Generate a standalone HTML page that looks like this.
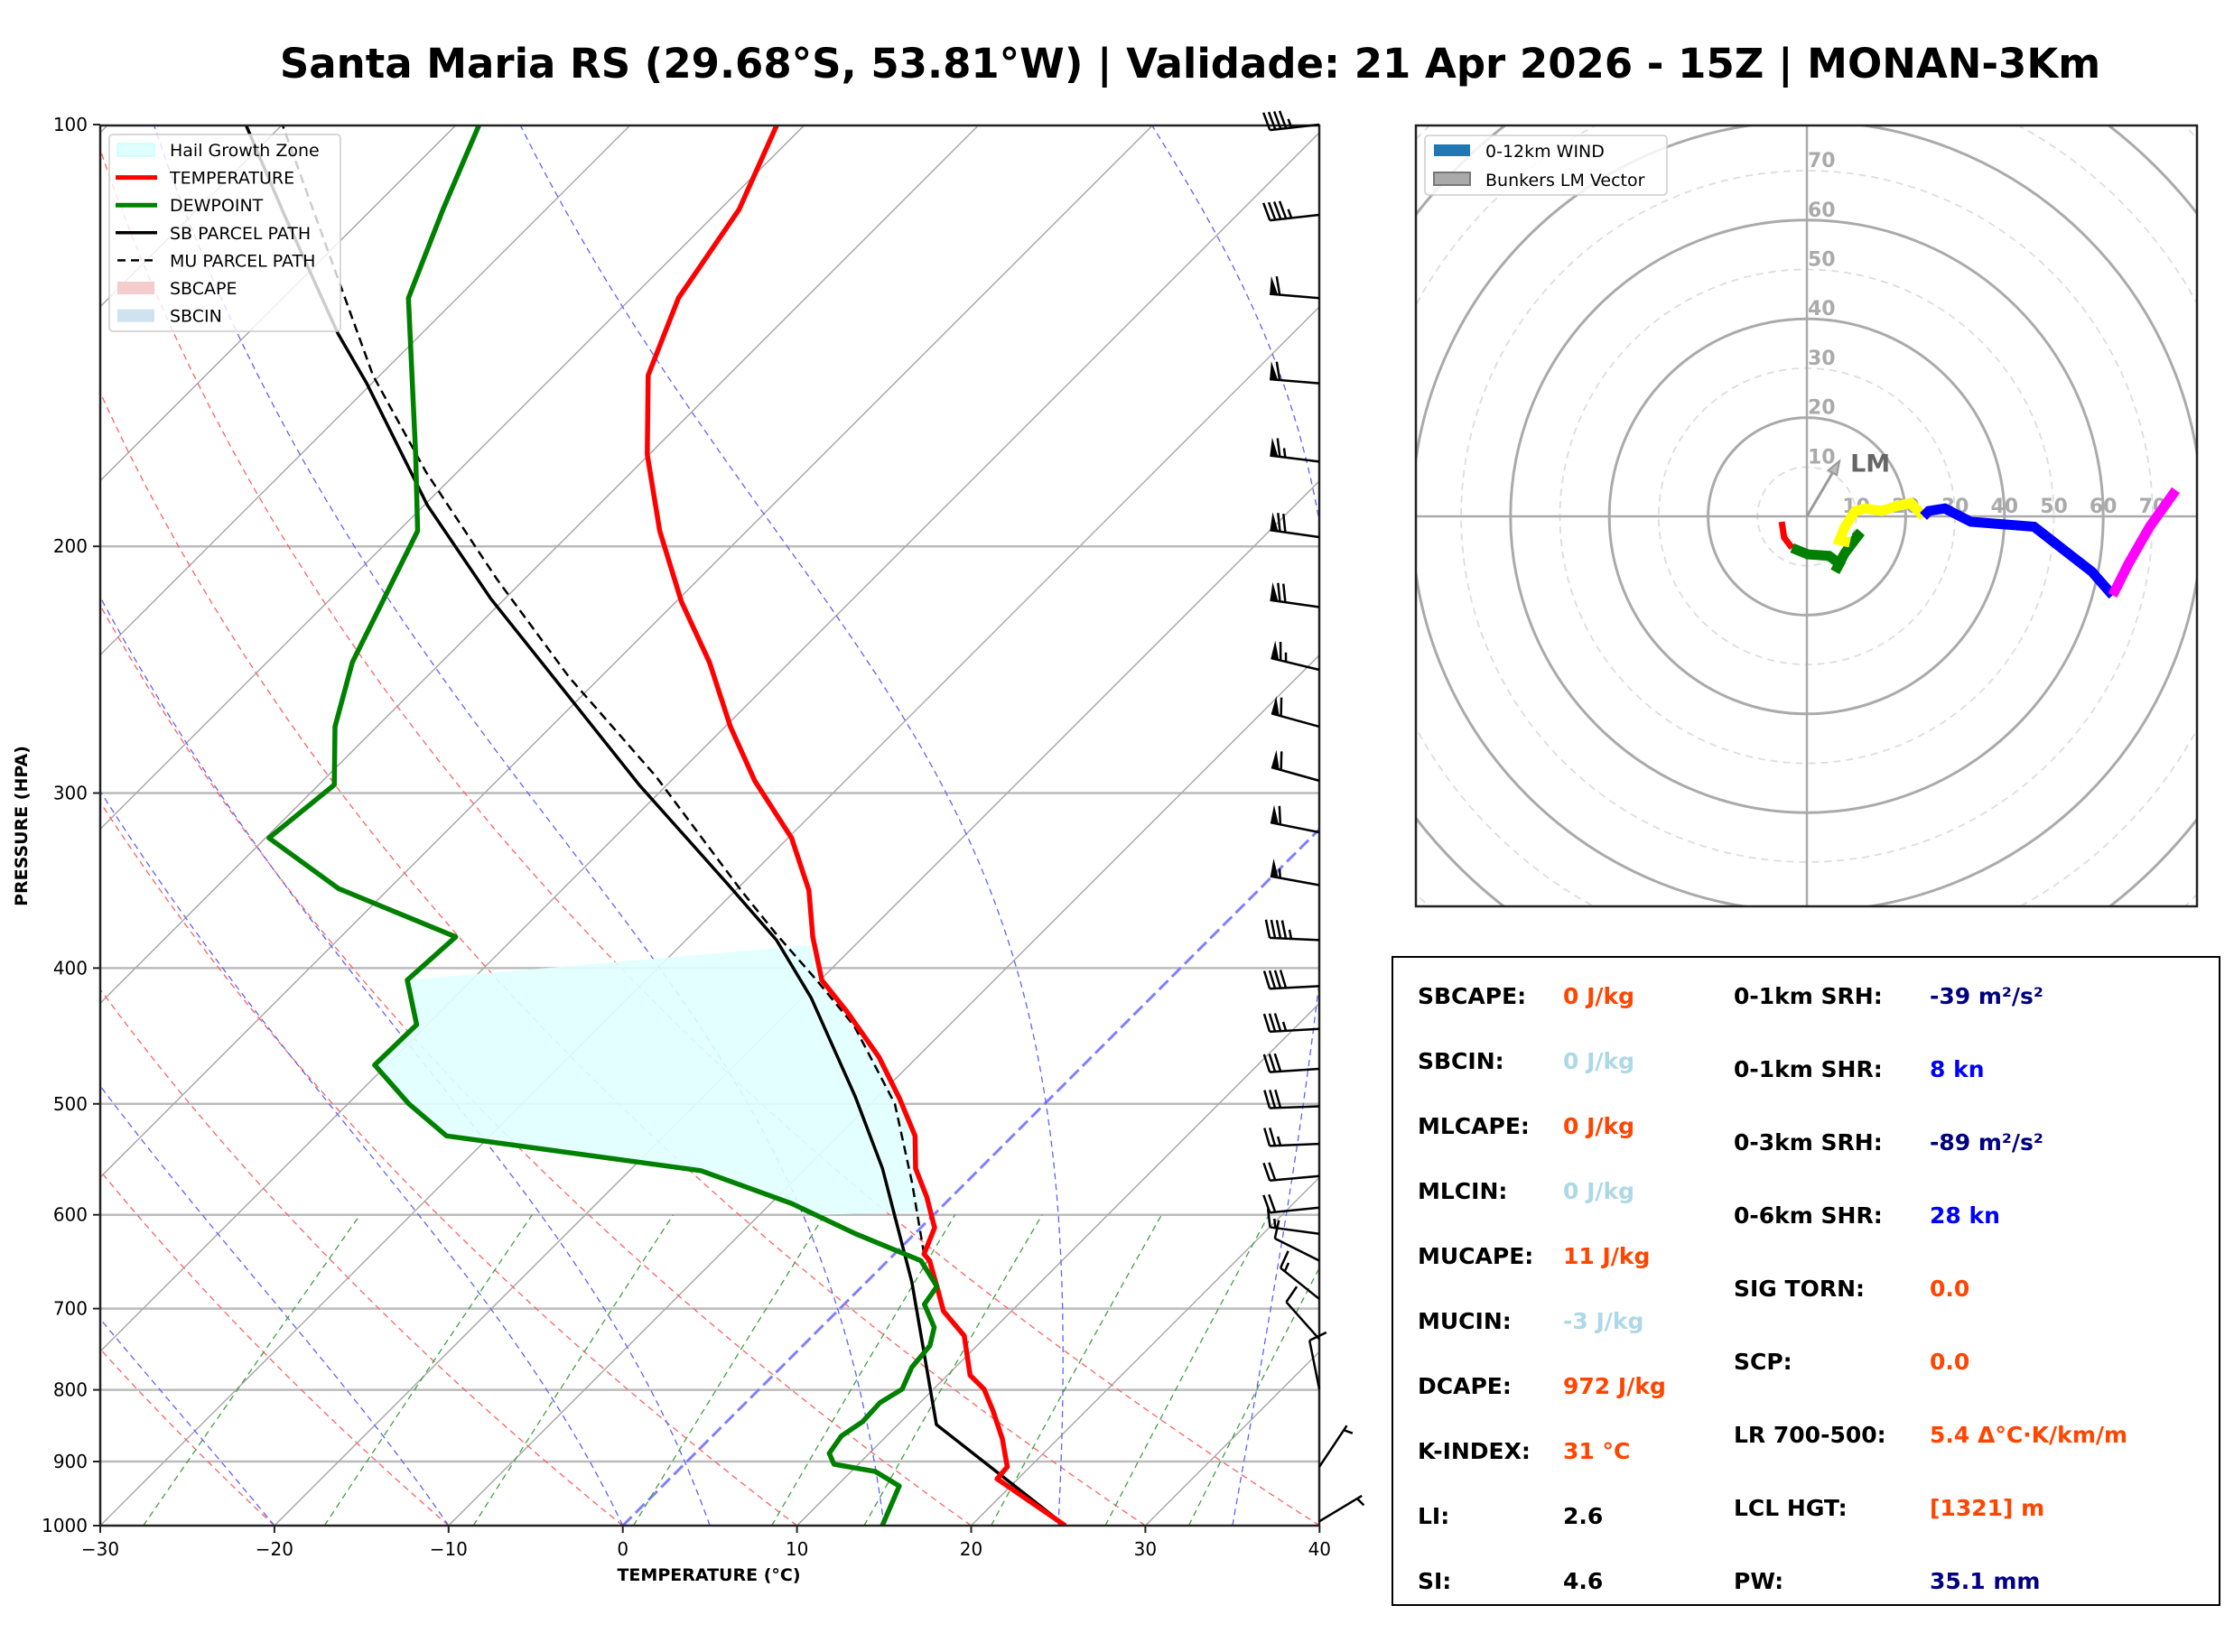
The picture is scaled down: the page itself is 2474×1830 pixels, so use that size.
<!DOCTYPE html>
<html><head><meta charset="utf-8">
<style>
html,body{margin:0;padding:0;background:#fff;}
svg{display:block;font-family:"DejaVu Sans","Liberation Sans",sans-serif;}
</style></head>
<body>
<svg id="fig" width="2474" height="1830" viewBox="0 0 2474 1830" xmlns="http://www.w3.org/2000/svg">
<rect width="2474" height="1830" fill="#fff"/>
<text x="1318" y="86" font-size="45" font-weight="bold" text-anchor="middle" font-family="DejaVu Sans, Liberation Sans, sans-serif">Santa Maria RS (29.68°S, 53.81°W) | Validade: 21 Apr 2026 - 15Z | MONAN-3Km</text>
<defs>
<clipPath id="skclip"><rect x="111" y="139" width="1350" height="1551"/></clipPath>
<clipPath id="hoclip"><rect x="1568" y="139" width="865" height="865"/></clipPath>
</defs>
<g id="skewt"></g>
<g id="hodo"></g>
<g id="table"></g>
</svg>
<script>
// ---------- Skew-T data ----------
const tempP = [1000,926,908,867,827,799,781,732,703,678,647,640,613,583,556,527,496,463,430,408,380,352,323,294,269,242,219,195,172,151,133,115,100];
const tempT = [25.4,18.8,18.7,16.8,14.6,12.9,11.3,8.7,6.1,4.5,2.4,1.7,0.8,-1.4,-3.7,-5.6,-8.6,-12.2,-16.6,-19.9,-22.9,-25.8,-29.8,-35.2,-39.7,-44.6,-49.7,-55.0,-60.1,-64.6,-67.3,-68.9,-71.6];
const dewP = [1000,937,915,904,888,863,843,817,799,771,744,722,695,675,647,619,589,558,527,500,469,439,408,380,351,323,296,269,242,221,195,172,133,115,100];
const dewT = [14.9,13.6,11.4,8.6,7.7,7.4,7.8,7.7,8.2,7.5,7.3,6.5,4.6,4.3,1.9,-3.4,-8.8,-15.9,-32.5,-36.5,-40.7,-40.6,-43.7,-43.4,-52.9,-59.8,-59.1,-62.4,-65.1,-66.7,-68.9,-73.4,-82.8,-85.9,-88.7];
const sbP = [1000,847,670,556,494,420,382,348,296,250,218,187,153,141,116,100];
const sbT = [25.4,12.2,2.6,-5.6,-11.3,-19.5,-24.8,-30.9,-41.6,-52.2,-60.8,-69.8,-80.3,-84.8,-94.7,-102.1];
const muP = [640,569,500,440,408,378,352,292,248,211,177,151,100];
const muT = [1.7,-3.1,-8.6,-15.4,-20.2,-25.2,-29.7,-41.1,-51.8,-61.6,-71.8,-80.4,-100.0];
const hgzTopP = 385;
const hgzBotP = 600;
const pTicks = [100,200,300,400,500,600,700,800,900,1000];
const tTicks = [-30,-20,-10,0,10,20,30,40];
const barbP = [100,116,133,153,174,197,221,245,269,294,320,349,382,412,442,472,502,534,563,593,619,647,689,736,799,908,993];
const barbU = [45,45,60,60,65,70,70,62,58,57,60,55,45,38,35,30,28,25,22,20,15,10,10,8,2,-4,-5];
const barbV = [5,5,-5,-5,-8,-10,-10,-15,-16,-16,-12,-10,-2,2,2,2,1,1,2,2,-2,-5,-8,-9,-10,-6,-3];
// ---------- Hodograph data (kn) ----------
const hodoRedU = [-5.1,-4.6,-3.0];
const hodoRedV = [-1.1,-4.3,-6.4];
const hodoGreenU = [-3.0,0.2,4.5,6.6,5.7,7.7,10.9,9.8];
const hodoGreenV = [-6.4,-7.7,-8.0,-9.6,-11.2,-7.4,-3.2,-4.3];
const hodoYellowU = [8.7,6.6,7.7,9.8,11.9,15.1,18.3,21.0,23.6];
const hodoYellowV = [-5.3,-4.8,-2.1,1.1,1.6,1.1,2.1,2.7,0.0];
const hodoBlueU = [23.6,24.7,27.9,33.2,46.0,57.7,61.9];
const hodoBlueV = [0.0,1.1,1.6,-1.1,-2.1,-11.2,-16.0];
const hodoMagU = [61.9,65.1,69.4,74.7];
const hodoMagV = [-16.0,-9.6,-2.1,5.3];
const lmU = [6.6];
const lmV = [11.2];
const ringLabels = [10,20,30,40,50,60,70];

const NS='http://www.w3.org/2000/svg';
function mk(tag,attrs,parent){const e=document.createElementNS(NS,tag);for(const k in attrs)e.setAttribute(k,attrs[k]);parent.appendChild(e);return e;}
const X0=111,X1=1461,Y0=1690,Y1=139,H=1552,KT=19.29;
function yP(p){return Y0-H*Math.log10(1000/p);}
function xT(T,p){return X0+(T+30)*KT+(Y0-yP(p));}
function pathFrom(P,T){return P.map((p,i)=>(i?'L':'M')+xT(T[i],p).toFixed(1)+','+yP(p).toFixed(1)).join('');}

const sk=document.getElementById('skewt');
const bg=mk('g',{'clip-path':'url(#skclip)'},sk);


pTicks.forEach(p=>{if(p===100||p===1000)return;
 const l=mk('line',{x1:X0,x2:X1,y1:yP(p),y2:yP(p),stroke:'#bbb','stroke-width':2.5},bg);
 
 });
for(let T=-120;T<=40;T+=10){
 const l=mk('line',{x1:xT(T,1000),y1:yP(1000),x2:xT(T,100),y2:yP(100),stroke:T===0?'#8080ff':'#aaa','stroke-width':T===0?3:1.5,'stroke-dasharray':T===0?'14,6':'none'},bg);
 
 }
for(let t0=-30;t0<=40;t0+=10){let d='';
 for(let p=1000;p>=100;p-=10){const T=(t0+273.15)*Math.pow(p/1000,0.2857)-273.15;d+=(p===1000?'M':'L')+xT(T,p).toFixed(1)+','+yP(p).toFixed(1);}
 const l=mk('path',{d:d,fill:'none',stroke:'#ff6060','stroke-width':1.3,'stroke-dasharray':'7,5'},bg);
 
 }
function es(Tc){return 6.112*Math.exp(17.67*Tc/(Tc+243.5));}
[-20,-10,0,5,15,25,35].forEach(t0=>{let T=t0+273.15,d='';
 for(let p=1000;p>=100;p-=5){d+=(p===1000?'M':'L')+xT(T-273.15,p).toFixed(1)+','+yP(p).toFixed(1);
  const e=es(T-273.15),rs=0.622*e/(p-e),Lv=2.5e6,Rd=287,cp=1005;
  const dTdp=(Rd*T+Lv*rs)/(cp+Lv*Lv*rs*0.622/(Rd*T*T))/p;T-=dTdp*5;}
 const l=mk('path',{d:d,fill:'none',stroke:'#6060ff','stroke-width':1.3,'stroke-dasharray':'7,5'},bg);
 
 });
[0.0004,0.001,0.002,0.004,0.007,0.01,0.016,0.024,0.032].forEach(w=>{let d='';
 for(let p=1000;p>=600;p-=20){const e=w*p/(0.622+w);const a=Math.log(e/6.112);const Td=243.5*a/(17.67-a);d+=(p===1000?'M':'L')+xT(Td,p).toFixed(1)+','+yP(p).toFixed(1);}
 const l=mk('path',{d:d,fill:'none',stroke:'#40a040','stroke-width':1.3,'stroke-dasharray':'7,5'},bg);
 
 });
(function(){function interp(P,T,p){for(let i=0;i<P.length-1;i++){if(P[i]>=p&&P[i+1]<=p){const f=Math.log(P[i]/p)/Math.log(P[i]/P[i+1]);return T[i]+f*(T[i+1]-T[i]);}}return T[T.length-1];}
 let pts=[];for(let p=hgzBotP;p>=408;p-=4)pts.push([xT(interp(dewP,dewT,p),p),yP(p)]);
 let r=[];for(let p=hgzTopP;p<=hgzBotP;p+=4)r.push([xT(interp(tempP,tempT,p),p),yP(p)]);
 const all=pts.concat(r);
 const f=mk('polygon',{points:all.map(q=>q[0].toFixed(1)+','+q[1].toFixed(1)).join(' '),fill:'#e0ffff',opacity:0.9},bg);
 
 })();
const prof=mk('g',{'clip-path':'url(#skclip)'},sk);
let e;
e=mk('path',{d:pathFrom(sbP,sbT),fill:'none',stroke:'#000','stroke-width':3.5},prof);


e=mk('path',{d:pathFrom(muP,muT),fill:'none',stroke:'#000','stroke-width':2.5,'stroke-dasharray':'10,6'},prof);


e=mk('path',{d:pathFrom(tempP,tempT),fill:'none',stroke:'#ff0000','stroke-width':5.5,'stroke-linejoin':'round'},prof);


e=mk('path',{d:pathFrom(dewP,dewT),fill:'none',stroke:'#008000','stroke-width':5.5,'stroke-linejoin':'round'},prof);


e=mk('rect',{x:X0,y:Y1,width:X1-X0,height:Y0-Y1,fill:'none',stroke:'#222','stroke-width':2.5},sk);


pTicks.forEach(p=>{mk('line',{x1:X0-8,x2:X0,y1:yP(p),y2:yP(p),stroke:'#222','stroke-width':2},sk);
 const t=mk('text',{x:X0-14,y:yP(p)+7,'font-size':20,'text-anchor':'end'},sk);t.textContent=p;
 
 });
tTicks.forEach(T=>{const x=X0+(T+30)*KT;mk('line',{x1:x,x2:x,y1:Y0,y2:Y0+8,stroke:'#222','stroke-width':2},sk);
 const t=mk('text',{x:x,y:Y0+33,'font-size':20,'text-anchor':'middle'},sk);t.textContent=(T<0?'\u2212'+(-T):T);
 
 });
e=mk('text',{x:785,y:1751,'font-size':19,'font-weight':'bold','text-anchor':'middle'},sk);e.textContent='TEMPERATURE (°C)';


e=mk('text',{x:30,y:915,'font-size':19,'font-weight':'bold','text-anchor':'middle',transform:'rotate(-90 30 915)'},sk);e.textContent='PRESSURE (HPA)';


barbP.forEach((p,i)=>{const u=barbU[i],v=barbV[i];const spd=Math.hypot(u,v);const g=mk('g',{},sk);
 
 
 const ux=-u/spd,uy=v/spd;const L=55;const bx=X1,by=yP(p);const ex=bx+ux*L,ey=by+uy*L;
 mk('line',{x1:bx,y1:by,x2:ex,y2:ey,stroke:'#000','stroke-width':2.5},g);
 const px=-uy,py=ux;let rem=Math.round(spd/5)*5;let pos=0;
 while(rem>=50){const ax=ex-ux*pos,ay=ey-uy*pos;const bx2=ex-ux*(pos+9),by2=ey-uy*(pos+9);
  mk('polygon',{points:`${ax},${ay} ${ax+px*20},${ay+py*20} ${bx2},${by2}`,fill:'#000'},g);rem-=50;pos+=11;}
 while(rem>=10){const ax=ex-ux*pos,ay=ey-uy*pos;mk('line',{x1:ax,y1:ay,x2:ax+px*20+ux*5,y2:ay+py*20+uy*5,stroke:'#000','stroke-width':2.5},g);rem-=10;pos+=6;}
 if(rem>=5){if(pos===0)pos=6;const ax=ex-ux*pos,ay=ey-uy*pos;mk('line',{x1:ax,y1:ay,x2:ax+px*10+ux*2.5,y2:ay+py*10+uy*2.5,stroke:'#000','stroke-width':2.5},g);}
});
(function(){const g=mk('g',{},sk);
 
 
 mk('rect',{x:121,y:149,width:256,height:218,rx:4,fill:'#fff','fill-opacity':0.8,stroke:'#ccc','stroke-width':1.5},g);
 const items=[['Hail Growth Zone','patch','#e0ffff','#b0ffff'],['TEMPERATURE','line','#ff0000'],['DEWPOINT','line','#008000'],['SB PARCEL PATH','line','#000'],['MU PARCEL PATH','dash','#000'],['SBCAPE','patch','#f5cccc'],['SBCIN','patch','#cfe2ef']];
 items.forEach((it,i)=>{const y=166+i*30.6;
  if(it[1]==='patch')mk('rect',{x:130,y:y-7,width:41,height:14,fill:it[2],stroke:it[3]||'none'},g);
  else if(it[1]==='line')mk('line',{x1:128,x2:174,y1:y,y2:y,stroke:it[2],'stroke-width':it[2]==='#000'?3.5:5},g);
  else mk('line',{x1:130,x2:172,y1:y,y2:y,stroke:'#000','stroke-width':2.5,'stroke-dasharray':'9,6'},g);
  const t=mk('text',{x:188,y:y+7,'font-size':19},g);t.textContent=it[0];
  
  });
})();

// ---------- Hodograph ----------
const ho=document.getElementById('hodo');
const HX=2001,HY=572,KN=5.47;
function hx(u){return HX+u*KN;} function hy(v){return HY-v*KN;}
const hg=mk('g',{'clip-path':'url(#hoclip)'},ho);
for(let r=10;r<=120;r+=10){const c=mk('circle',{cx:HX,cy:HY,r:r*KN,fill:'none',stroke:r%20===0?'#aaa':'#ddd','stroke-width':r%20===0?3:1.8,'stroke-dasharray':r%20===0?'none':'8,6'},hg);
 
 }
mk('line',{x1:1568,x2:2433,y1:HY,y2:HY,stroke:'#aaa','stroke-width':2.5},hg);
mk('line',{x1:HX,x2:HX,y1:139,y2:1004,stroke:'#aaa','stroke-width':2.5},hg);
ringLabels.forEach(r=>{let t=mk('text',{x:HX+1,y:hy(r)-4,'font-size':22,'font-weight':'bold',fill:'#aaa'},hg);t.textContent=r;
 
 
 t=mk('text',{x:hx(r),y:HY-4,'font-size':22,'font-weight':'bold',fill:'#aaa','text-anchor':'middle'},hg);t.textContent=r;
 
 });
(function(){const x2=hx(lmU[0]),y2=hy(lmV[0]);const a=mk('line',{x1:HX,y1:HY,x2:x2,y2:y2,stroke:'#999','stroke-width':3},hg);
 
 
 const ang=Math.atan2(y2-HY,x2-HX);const hl=16;
 mk('polygon',{points:`${x2},${y2} ${x2-hl*Math.cos(ang-0.35)},${y2-hl*Math.sin(ang-0.35)} ${x2-hl*Math.cos(ang+0.35)},${y2-hl*Math.sin(ang+0.35)}`,fill:'#bbb',stroke:'#999','stroke-width':2},hg);
 const t=mk('text',{x:x2+12,y:y2+12,'font-size':27,'font-weight':'bold',fill:'#666'},hg);t.textContent='LM';
 
 })();
[[hodoRedU,hodoRedV,'#ff0000','hodo-0-1km'],[hodoGreenU,hodoGreenV,'#008000','hodo-1-3km'],[hodoYellowU,hodoYellowV,'#ffff00','hodo-3-6km'],[hodoBlueU,hodoBlueV,'#0000ff','hodo-6-9km'],[hodoMagU,hodoMagV,'#ff00ff','hodo-9-12km']].forEach(s=>{
 const d=s[0].map((u,i)=>(i?'L':'M')+hx(u).toFixed(1)+','+hy(s[1][i]).toFixed(1)).join('');
 const p=mk('path',{d:d,fill:'none',stroke:s[2],'stroke-width':s[2]==='#ff0000'?7:11},hg);
 
 });
mk('rect',{x:1568,y:139,width:865,height:865,fill:'none',stroke:'#222','stroke-width':2.5},ho);
(function(){const g=mk('g',{},ho);
 
 
 mk('rect',{x:1578,y:150,width:268,height:66,rx:4,fill:'#fff','fill-opacity':0.85,stroke:'#ccc','stroke-width':1.5},g);
 mk('rect',{x:1588,y:160,width:40,height:13,fill:'#1f77b4'},g);
 mk('rect',{x:1588,y:191,width:40,height:14,fill:'#aaa',stroke:'#777','stroke-width':2},g);
 let t=mk('text',{x:1645,y:174,'font-size':19},g);t.textContent='0-12km WIND';
 
 
 t=mk('text',{x:1645,y:206,'font-size':19},g);t.textContent='Bunkers LM Vector';
 
 })();

// ---------- Table ----------
const tb=document.getElementById('table');
mk('rect',{x:1542,y:1060,width:916,height:718,fill:'#fff',stroke:'#000','stroke-width':2},tb);
const OR='#ff4500',LB='#add8e6',NV='#000080',BL='#0000ff';
const left=[['SBCAPE:','0 J/kg',OR],['SBCIN:','0 J/kg',LB],['MLCAPE:','0 J/kg',OR],['MLCIN:','0 J/kg',LB],['MUCAPE:','11 J/kg',OR],['MUCIN:','-3 J/kg',LB],['DCAPE:','972 J/kg',OR],['K-INDEX:','31 °C',OR],['LI:','2.6','#000'],['SI:','4.6','#000']];
const right=[['0-1km SRH:','-39 m²/s²',NV],['0-1km SHR:','8 kn',BL],['0-3km SRH:','-89 m²/s²',NV],['0-6km SHR:','28 kn',BL],['SIG TORN:','0.0',OR],['SCP:','0.0',OR],['LR 700-500:','5.4 Δ°C·K/km/m',OR],['LCL HGT:','[1321] m',OR],['PW:','35.1 mm',NV]];
left.forEach((r,i)=>{const y=1112+i*72;let t=mk('text',{x:1570,y:y,'font-size':25,'font-weight':'bold',fill:'#000'},tb);t.textContent=r[0];
 
 
 t=mk('text',{x:1731,y:y,'font-size':25,'font-weight':'bold',fill:r[2]},tb);t.textContent=r[1];
 
 });
right.forEach((r,i)=>{const y=1112+i*81;let t=mk('text',{x:1920,y:y,'font-size':25,'font-weight':'bold',fill:'#000'},tb);t.textContent=r[0];
 
 
 t=mk('text',{x:2137,y:y,'font-size':25,'font-weight':'bold',fill:r[2]},tb);t.textContent=r[1];
 
 });
</script>
</body></html>
